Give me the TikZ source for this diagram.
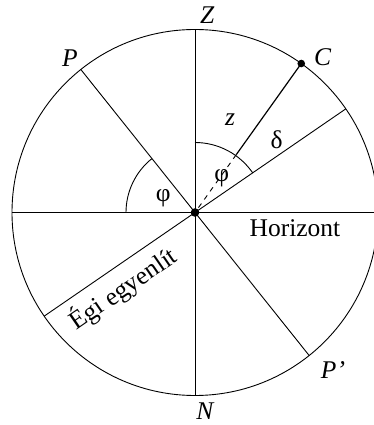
\documentclass[tikz,border=0pt]{standalone}
\usepackage{fontspec}
\setmainfont{Liberation Serif}
\begin{document}
\begin{tikzpicture}[x=1pt,y=1pt,
  thinline/.style={line width=0.9pt},
  lbl/.style={inner sep=0pt, font=\fontsize{25.5}{28}\selectfont},
  ilbl/.style={lbl, font=\fontsize{25.5}{28}\selectfont\itshape}]
\useasboundingbox (-195,-212.5) rectangle (179,212.5);
\coordinate (O) at (0,0);
\def\R{183}
\node[circle, draw, thinline, minimum size=366pt, inner sep=0pt] (circ) at (O) {};
% main diameters
\coordinate (Zp) at (90:\R);
\coordinate (Np) at (-90:\R);
\coordinate (Wp) at (180:\R);
\coordinate (Ep) at (0:\R);
\coordinate (Pp) at (128.6:\R);
\coordinate (Pq) at (-51.4:\R);
\coordinate (Qa) at (34.5:\R);
\coordinate (Qb) at (214.5:\R);
\coordinate (Cp) at (54.5:\R);
\coordinate (Cm) at (54.5:71);
\draw[thinline] (Zp) -- (Np);
\draw[thinline] (Wp) -- (Ep);
\draw[thinline] (Pp) -- (Pq);
\draw[thinline] (Qb) -- (Qa);
\draw[line width=1.2pt] (Cp) -- (Cm);
\draw[thinline, dash pattern=on 5pt off 5pt] (Cm) -- (O);
% arcs
\draw[thinline] (34.5:70) arc[start angle=34.5, end angle=90, radius=70];
\draw[thinline] (128.6:69) arc[start angle=128.6, end angle=180, radius=69];
% dots
\fill (O) circle[radius=4.3];
\fill (Cp) circle[radius=3.8];
% labels
\node[ilbl] (Z) at (12.3,197.5) {Z};
\node[ilbl] (N) at (10,-199) {N};
\node[ilbl] (P) at (-125,154.5) {P};
\node[ilbl] (P2) at (138,-157.5) {P’};
\node[ilbl] (C) at (127.7,155.8) {C};
\node[ilbl] (z) at (35,92.5) {z};
\node[lbl] (delta) at (81.7,73.2) {δ};
\node[lbl] (phi1) at (26.7,34.2) {φ};
\node[lbl] (phi2) at (-31.7,14.2) {φ};
\node[lbl] (hor) at (100,-15.5) {Horizont};
\node[lbl, rotate=34.5] (eq) at (-72,-76.5) {Égi egyenlít};
\end{tikzpicture}
\end{document}
